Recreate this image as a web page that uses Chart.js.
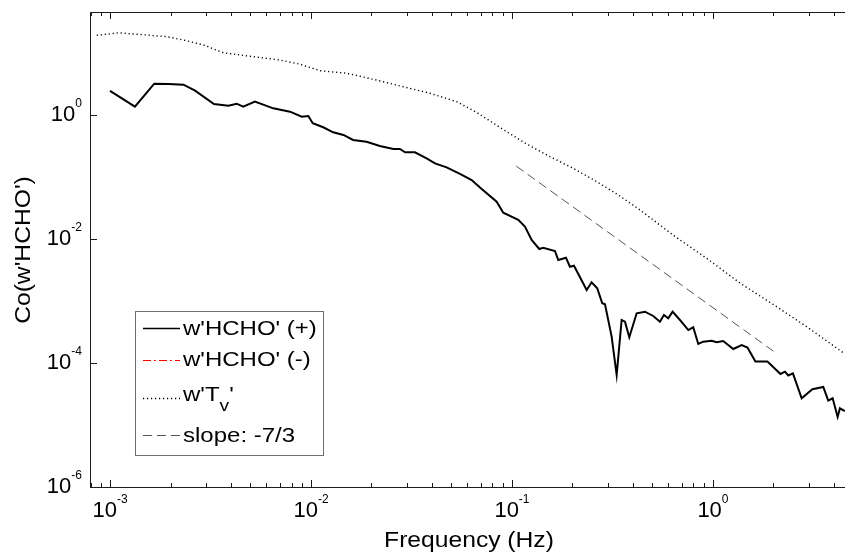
<!DOCTYPE html>
<html>
<head>
<meta charset="utf-8">
<script src="https://cdn.jsdelivr.net/npm/chart.js@4.4.1/dist/chart.umd.min.js"></script>
<style>
  html,body{margin:0;padding:0;background:#fff;}
  #wrap{width:845px;height:555px;position:relative;}
</style>
</head>
<body>
<div id="wrap"><canvas id="c"></canvas></div>
<script>
// w'HCHO' (+) cospectrum
const hchoFreq = [1.0e-3, 1.33e-3, 1.66e-3, 1.95e-3, 2.32e-3, 2.65e-3, 3.29e-3, 3.88e-3, 4.27e-3, 4.60e-3,
  5.26e-3, 6.49e-3, 7.86e-3, 9.0e-3, 9.7e-3, 1.02e-2, 1.15e-2, 1.29e-2, 1.45e-2, 1.62e-2,
  1.89e-2, 2.20e-2, 2.57e-2, 2.77e-2, 2.94e-2, 3.29e-2, 3.76e-2, 4.14e-2, 4.73e-2, 5.51e-2,
  6.30e-2, 6.93e-2, 8.39e-2, 9.05e-2, 0.1075, 0.116, 0.1253, 0.1367, 0.1431, 0.1637,
  0.170, 0.1856, 0.1943, 0.2035, 0.2353, 0.249, 0.2657, 0.2813, 0.2903, 0.3133,
  0.3318, 0.3513, 0.365, 0.3835, 0.4173, 0.4589, 0.5047, 0.5447, 0.5703, 0.599,
  0.63, 0.685, 0.754, 0.798, 0.845, 0.895, 0.985, 1.043, 1.125, 1.262,
  1.39, 1.485, 1.627, 1.867, 2.167, 2.281, 2.37, 2.50, 2.763, 3.126,
  3.54, 3.747, 3.94, 4.173, 4.283, 4.535];
const hchoCo = [2.44, 1.36, 3.2, 3.16, 3.08, 2.47, 1.50, 1.41, 1.52, 1.36,
  1.64, 1.28, 1.13, 0.94, 0.96, 0.735, 0.634, 0.526, 0.476, 0.395,
  0.371, 0.316, 0.283, 0.283, 0.25, 0.25, 0.20, 0.166, 0.143, 0.112,
  0.0894, 0.0677, 0.040, 0.0266, 0.0203, 0.0158, 0.00964, 0.0069, 0.00724, 0.0064,
  0.00458, 0.00499, 0.00357, 0.00371, 0.0015, 0.002, 0.0016, 0.00092, 0.000885, 0.000266,
  6.4e-5, 4.94e-4, 4.64e-4, 2.6e-4, 6.33e-4, 6.72e-4, 5.73e-4, 4.64e-4, 5.94e-4, 5.26e-4,
  6.72e-4, 4.94e-4, 3.4e-4, 3.77e-4, 2.03e-4, 2.21e-4, 2.29e-4, 2.16e-4, 2.26e-4, 1.68e-4,
  1.95e-4, 1.78e-4, 1.06e-4, 1.06e-4, 6.65e-5, 7.24e-5, 6.29e-5, 6.82e-5, 2.7e-5, 3.77e-5,
  4.1e-5, 2.48e-5, 2.7e-5, 1.35e-5, 1.86e-5, 1.68e-5];

// w'Tv' cospectrum
const tvFreq = [8.59e-4, 9.77e-4, 1.112e-3, 1.302e-3, 1.523e-3, 1.915e-3, 2.317e-3, 2.91e-3, 3.66e-3, 5.16e-3,
  7.01e-3, 8.82e-3, 1.109e-2, 1.505e-2, 2.04e-2, 2.77e-2, 3.91e-2, 5.31e-2, 6.67e-2, 9.41e-2,
  0.1183, 0.1545, 0.2018, 0.2638, 0.338, 0.4334, 0.6324, 0.930, 1.362, 1.995,
  2.925, 4.535];
const tvCo = [19.3, 20.2, 21.2, 20.2, 19.5, 18.3, 16.2, 13.5, 10.1, 8.72,
  7.71, 6.57, 5.18, 4.71, 3.77, 2.94, 2.24, 1.64, 1.10, 0.538,
  0.340, 0.2125, 0.138, 0.084, 0.0513, 0.0294, 0.0116, 0.00488, 0.00195, 8.79e-4,
  3.85e-4, 1.4e-4];

// -7/3 reference line
const slopeFreq = [0.105, 2.0];
const slopeCo = [0.15, 1.55e-4];

const xTicks = [1e-3, 1e-2, 1e-1, 1];
const xTickLabels = ['10^{-3}', '10^{-2}', '10^{-1}', '10^{0}'];
const yTicks = [1, 1e-2, 1e-4, 1e-6];
const yTickLabels = ['10^{0}', '10^{-2}', '10^{-4}', '10^{-6}'];

const FONT = '"Liberation Sans", Arial, Helvetica, sans-serif';

function pts(xs, ys){ return xs.map((v,i)=>({x:v, y:ys[i]})); }

// split "10^{-2}" / "w'T_v'" into normal, super and sub runs
function texParts(s){
  const out = []; let i = 0, buf = '';
  while(i < s.length){
    const ch = s[i];
    if(ch === '^' || ch === '_'){
      if(buf){ out.push({t:buf, k:0}); buf=''; }
      let t;
      if(s[i+1] === '{'){ const j = s.indexOf('}', i); t = s.slice(i+2, j); i = j+1; }
      else { t = s[i+1]; i += 2; }
      out.push({t, k: ch === '^' ? 1 : -1});
    } else { buf += ch; i++; }
  }
  if(buf) out.push({t:buf, k:0});
  return out;
}

function drawTex(ctx, s, x, y, size, align, sx){
  sx = sx || 1;
  const parts = texParts(s);
  const fs = p => (p.k === 1 ? Math.round(size*0.56) : p.k === -1 ? Math.round(size*0.8) : size);
  let w = 0;
  parts.forEach(p=>{ ctx.font = fs(p)+'px '+FONT; p.w = ctx.measureText(p.t).width*sx; w += p.w; });
  let cx = align === 'right' ? x - w : align === 'center' ? x - w/2 : x;
  ctx.textBaseline = 'middle'; ctx.textAlign = 'left';
  parts.forEach(p=>{
    ctx.font = fs(p)+'px '+FONT;
    const dy = p.k === 1 ? -size*0.52 : p.k === -1 ? size*0.55 : 0;
    ctx.save(); ctx.translate(cx, y+dy); ctx.scale(sx, 1); ctx.fillText(p.t, 0, 0); ctx.restore();
    cx += p.w;
  });
}

const frame = {
  id: 'frame',
  afterDraw(chart){
    const {ctx, chartArea:a, scales:{x, y}} = chart;
    ctx.save();
    ctx.strokeStyle = '#1a1a1a'; ctx.lineWidth = 1;
    ctx.beginPath();
    ctx.moveTo(a.right+2, a.top+0.5); ctx.lineTo(a.left+0.5, a.top+0.5);
    ctx.lineTo(a.left+0.5, a.bottom+0.5); ctx.lineTo(a.right+2, a.bottom+0.5);
    ctx.stroke();

    // x ticks, bottom and top, pointing inward
    ctx.beginPath();
    for(let d = -4; d <= 0; d++){
      for(let m = 1; m <= 9; m++){
        const v = m*Math.pow(10, d);
        if(v <= x.min || v >= x.max) continue;
        const px = Math.round(x.getPixelForValue(v)) + 0.5;
        const len = m === 1 ? 7 : 4;
        ctx.moveTo(px, a.bottom); ctx.lineTo(px, a.bottom-len);
        ctx.moveTo(px, a.top); ctx.lineTo(px, a.top+len);
      }
    }
    yTicks.forEach(v=>{
      const py = Math.round(y.getPixelForValue(v)) + 0.5;
      ctx.moveTo(a.left, py); ctx.lineTo(a.left+7, py);
    });
    ctx.stroke();

    ctx.fillStyle = '#000';
    xTicks.forEach((v,i)=> drawTex(ctx, xTickLabels[i], x.getPixelForValue(v), 511, 22, 'center'));
    yTicks.forEach((v,i)=> drawTex(ctx, yTickLabels[i], 82, y.getPixelForValue(v), 22, 'right'));

    drawTex(ctx, 'Frequency (Hz)', 469, 541, 22, 'center', 1.12);
    ctx.save(); ctx.translate(24, 250); ctx.rotate(-Math.PI/2);
    drawTex(ctx, "Co(w'HCHO')", 0, 0, 22, 'center', 1.12);
    ctx.restore();

    // legend box
    ctx.fillStyle = '#fff'; ctx.strokeStyle = '#6e6e6e';
    ctx.fillRect(135.5, 311.5, 188, 144); ctx.strokeRect(135.5, 311.5, 188, 144);
    const rowY = [329, 360, 395.5, 436];
    const lineY = [328, 360, 398, 435];
    chart.data.datasets.forEach((ds, i)=>{
      ctx.save();
      ctx.strokeStyle = ds.borderColor; ctx.lineWidth = Math.min(ds.borderWidth, 1.6);
      ctx.setLineDash(ds.borderDash || []);
      ctx.beginPath(); ctx.moveTo(143, lineY[i]+0.5); ctx.lineTo(180, lineY[i]+0.5); ctx.stroke();
      ctx.restore();
      ctx.fillStyle = '#000';
      drawTex(ctx, ds.label, 183, rowY[i], 20, 'left', 1.2);
    });
    ctx.restore();
  }
};

new Chart(document.getElementById('c'), {
  type: 'line',
  data: {
    datasets: [
      {label: "w'HCHO' (+)", data: pts(hchoFreq, hchoCo), borderColor: '#000', borderWidth: 2},
      {label: "w'HCHO' (-)", data: [], borderColor: '#ff0000', borderWidth: 1, borderDash: [8,3,2,3]},
      {label: "w'T_v'", data: pts(tvFreq, tvCo), borderColor: '#000', borderWidth: 1.4, borderDash: [1.2,2.8]},
      {label: 'slope: -7/3', data: pts(slopeFreq, slopeCo), borderColor: '#555', borderWidth: 1, borderDash: [9,5]}
    ]
  },
  options: {
    responsive: true, maintainAspectRatio: false, animation: false,
    layout: {padding: {left: 90, top: 12, right: 0, bottom: 68}},
    elements: {point: {radius: 0}, line: {tension: 0}},
    plugins: {legend: {display: false}, tooltip: {enabled: false}},
    scales: {
      x: {type: 'logarithmic', min: 7.95e-4, max: 4.54, display: false},
      y: {type: 'logarithmic', min: 1e-6, max: 45.8, display: false}
    }
  },
  plugins: [frame]
});
</script>
</body>
</html>
